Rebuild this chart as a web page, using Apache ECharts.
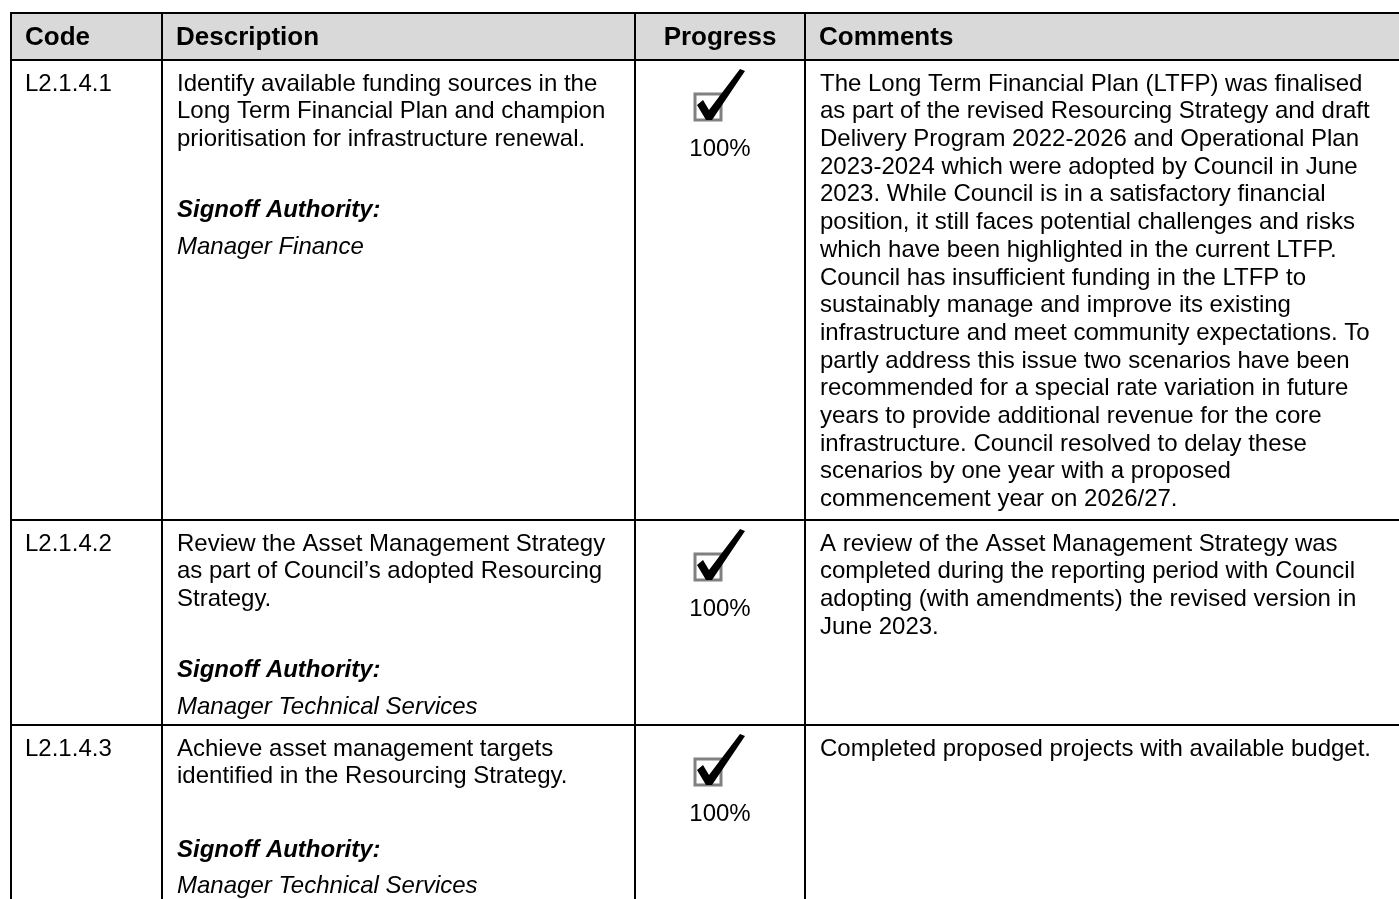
<!DOCTYPE html>
<html><head><meta charset="utf-8">
<script src="https://cdn.jsdelivr.net/npm/echarts@6/dist/echarts.min.js"></script>
<style>html,body{margin:0;padding:0;background:#fff}#c{width:1399px;height:899px}</style>
</head><body><div id="c"></div>
<script>
// ---- data ----
const headers = ['Code', 'Description', 'Progress', 'Comments'];
const codes = ['L2.1.4.1', 'L2.1.4.2', 'L2.1.4.3'];
const descriptions = [
  ['Identify available funding sources in the', 'Long Term Financial Plan and champion', 'prioritisation for infrastructure renewal.'],
  ['Review the Asset Management Strategy', 'as part of Council\u2019s adopted Resourcing', 'Strategy.'],
  ['Achieve asset management targets', 'identified in the Resourcing Strategy.']
];
const signoffLabel = 'Signoff Authority:';
const signoffs = ['Manager Finance', 'Manager Technical Services', 'Manager Technical Services'];
const progressValues = [100, 100, 100];
const comments = [
  ['The Long Term Financial Plan (LTFP) was finalised',
   'as part of the revised Resourcing Strategy and draft',
   'Delivery Program 2022-2026 and Operational Plan',
   '2023-2024 which were adopted by Council in June',
   '2023. While Council is in a satisfactory financial',
   'position, it still faces potential challenges and risks',
   'which have been highlighted in the current LTFP.',
   'Council has insufficient funding in the LTFP to',
   'sustainably manage and improve its existing',
   'infrastructure and meet community expectations. To',
   'partly address this issue two scenarios have been',
   'recommended for a special rate variation in future',
   'years to provide additional revenue for the core',
   'infrastructure. Council resolved to delay these',
   'scenarios by one year with a proposed',
   'commencement year on 2026/27.'],
  ['A review of the Asset Management Strategy was',
   'completed during the reporting period with Council',
   'adopting (with amendments) the revised version in',
   'June 2023.'],
  ['Completed proposed projects with available budget.']
];

// ---- layout ----
const colX = [11, 162, 635, 805, 1420];
const rowY = [13, 60, 520, 725, 930];
const FONT = '"Liberation Sans", Arial, sans-serif';
const BODY = 24, LH = 27.7, HEAD = 26;
const padX = 14;

const g = [];
// header fill
g.push({type: 'rect', shape: {x: colX[0], y: rowY[0], width: 1399 - colX[0], height: rowY[1] - rowY[0]}, style: {fill: '#d9d9d9'}, z: 1});
// header text
headers.forEach((h, i) => {
  const center = i === 2;
  g.push({type: 'text', x: center ? (colX[i] + colX[i + 1]) / 2 : colX[i] + padX, y: (rowY[0] + rowY[1]) / 2 + 1,
    style: {text: h, font: 'bold ' + HEAD + 'px ' + FONT, fill: '#000', textAlign: center ? 'center' : 'left', textVerticalAlign: 'middle'}, z: 5});
});
function lines(arr, x, yCenterFirst, style, align) {
  arr.forEach((t, k) => {
    g.push({type: 'text', x: x, y: yCenterFirst + k * LH,
      style: {text: t, font: style + BODY + 'px ' + FONT, fill: '#000', textAlign: align || 'left', textVerticalAlign: 'middle'}, z: 5});
  });
}
codes.forEach((c, r) => {
  const top = rowY[r + 1];
  const first = top + 24;
  lines([c], colX[0] + padX, first, '');
  lines(descriptions[r], colX[1] + padX + 1, first, '');
  const sY = first + (descriptions[r].length + 1.5) * LH + (descriptions[r].length < 3 ? 4 : 2);
  lines([signoffLabel], colX[1] + padX + 1, sY, 'italic bold ');
  lines([signoffs[r]], colX[1] + padX + 1, sY + 36.5, 'italic ');
  lines(comments[r], colX[3] + padX + 1, first, '');
  // progress icon
  const cx = 708, cy = top + 47;
  g.push({type: 'rect', shape: {x: cx - 13, y: cy - 13, width: 26, height: 26}, style: {fill: '#fff', stroke: '#808080', lineWidth: 3}, z: 5});
  g.push({type: 'polygon', shape: {points: [[cx - 11, cy - 2], [cx - 5, cy - 7], [cx + 1, cy + 3], [cx + 32, cy - 38], [cx + 37, cy - 36], [cx + 4, cy + 13], [cx - 2, cy + 13]]},
    style: {fill: '#000'}, z: 6});
  lines([progressValues[r] + '%'], (colX[2] + colX[3]) / 2, top + 89, '', 'center');
});
// grid lines
const LW = 2;
rowY.slice(0, 4).forEach(y => g.push({type: 'line', shape: {x1: colX[0] - 1, y1: y, x2: 1399, y2: y}, style: {stroke: '#000', lineWidth: LW}, z: 10}));
colX.slice(0, 4).forEach(x => g.push({type: 'line', shape: {x1: x, y1: rowY[0] - 1, x2: x, y2: 899}, style: {stroke: '#000', lineWidth: LW}, z: 10}));

const chart = echarts.init(document.getElementById('c'), null, {renderer: 'canvas'});
chart.setOption({backgroundColor: '#fff', animation: false, graphic: g});
</script></body></html>
